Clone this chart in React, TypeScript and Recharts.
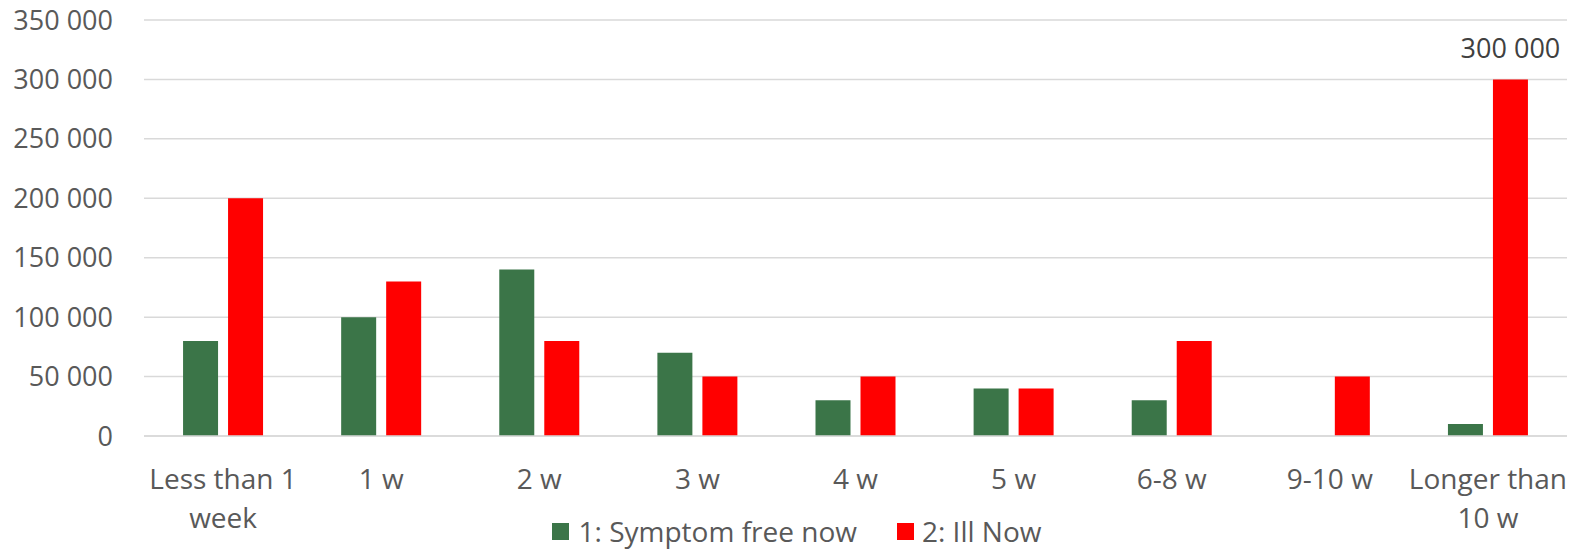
import React from "react";
import { BarChart, Bar, XAxis, YAxis, CartesianGrid, LabelList } from "recharts";

const categories = ["Less than 1 week", "1 w", "2 w", "3 w", "4 w", "5 w", "6-8 w", "9-10 w", "Longer than 10 w"];
const categoryLines: string[][] = [["Less than 1", "week"], ["1 w"], ["2 w"], ["3 w"], ["4 w"], ["5 w"], ["6-8 w"], ["9-10 w"], ["Longer than", "10 w"]];
const symptomFree = [80000, 100000, 140000, 70000, 30000, 40000, 30000, 0, 10000];
const illNow = [200000, 130000, 80000, 50000, 50000, 40000, 80000, 50000, 300000];
const yTicks = [0, 50000, 100000, 150000, 200000, 250000, 300000, 350000];
const labeledIndex = [8];
const seriesNames = ["1: Symptom free now", "2: Ill Now"];

const GREEN = "#3b7548";
const RED = "#ff0000";
const TEXT = "#595959";
const FONT = "'Open Sans', Lato, sans-serif";
const FS = 27;
const FSX = 28;

const data = categories.map((c, i) => ({ name: c, free: symptomFree[i], ill: illNow[i] }));

const fmt = (v: number) => {
  const s = Math.round(v).toString();
  return s.replace(/\B(?=(\d{3})+(?!\d))/g, " ");
};

const XTick = (props: any) => {
  const { x, y, index } = props;
  const lines = categoryLines[index] || [];
  return (
    <text x={x} y={y} textAnchor="middle" fill={TEXT} fontSize={FSX} fontFamily={FONT}>
      {lines.map((l, i) => (
        <tspan key={i} x={x} y={y + 45 + i * 39}>{l}</tspan>
      ))}
    </text>
  );
};

const TopLabel = (props: any) => {
  const { x, y, width, value, index } = props;
  if (!labeledIndex.includes(index)) return null;
  return (
    <text x={x + width / 2} y={y - 21} textAnchor="middle" fill="#404040" fontSize={FS} fontFamily={FONT}>
      {fmt(value)}
    </text>
  );
};

const LegendBox = () => (
  <div style={{ position: "absolute", left: 0, top: 513, width: 1577, height: 36, display: "flex", justifyContent: "center", alignItems: "center", fontFamily: FONT, fontSize: FSX, color: TEXT }}>
    <div style={{ display: "flex", alignItems: "center", marginRight: 40, marginLeft: 16 }}>
      <span style={{ display: "inline-block", width: 17, height: 17, background: GREEN, marginRight: 10 }} />
      <span>{seriesNames[0]}</span>
    </div>
    <div style={{ display: "flex", alignItems: "center" }}>
      <span style={{ display: "inline-block", width: 17, height: 17, background: RED, marginRight: 8 }} />
      <span>{seriesNames[1]}</span>
    </div>
  </div>
);

export default function App() {
  return (
    <div style={{ position: "absolute", left: 0, top: 0, width: 1577, height: 549, background: "#fff" }}>
      <BarChart width={1577} height={549} data={data} margin={{ top: 20, right: 10, left: 0, bottom: 0 }} barCategoryGap="24.7%" barGap={10}>
        <CartesianGrid vertical={false} stroke="#d9d9d9" strokeWidth={1.5} />
        <XAxis dataKey="name" height={113} tick={<XTick />} tickLine={false} axisLine={{ stroke: "#d9d9d9", strokeWidth: 1.5 }} interval={0} />
        <YAxis width={144} domain={[0, 350000]} ticks={yTicks} tickFormatter={fmt} tickLine={false} axisLine={false} tickSize={0} tickMargin={31}
          tick={{ fill: TEXT, fontSize: FS, fontFamily: FONT }} />
        <Bar dataKey="free" name={seriesNames[0]} fill={GREEN} isAnimationActive={false} />
        <Bar dataKey="ill" name={seriesNames[1]} fill={RED} isAnimationActive={false}>
          <LabelList dataKey="ill" content={<TopLabel />} />
        </Bar>
      </BarChart>
      <LegendBox />
    </div>
  );
}
